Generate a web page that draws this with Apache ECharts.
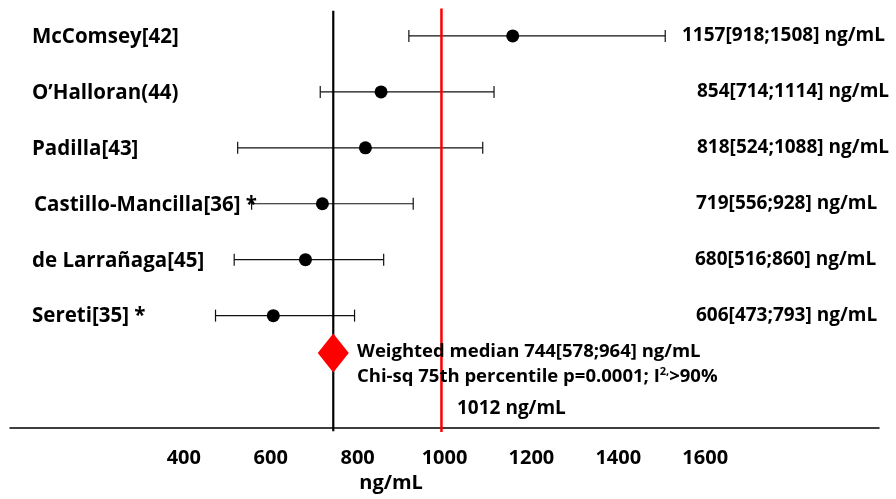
<!DOCTYPE html>
<html>
<head>
<meta charset="utf-8">
<script src="https://cdn.jsdelivr.net/npm/echarts@6/dist/echarts.min.js"></script>
<style>
html,body{margin:0;padding:0;background:#fff;}
#chart{width:896px;height:499px;}
</style>
</head>
<body>
<div id="chart"></div>
<script>
// ---------------- DATA ----------------
const studies = ['McComsey[42]', 'O\u2019Halloran(44)', 'Padilla[43]', 'Castillo-Mancilla[36] *', 'de Larra\u00f1aga[45]', 'Sereti[35] *'];
const medians = [1157, 854, 818, 719, 680, 606];
const lowers  = [918, 714, 524, 556, 516, 473];
const uppers  = [1508, 1114, 1088, 928, 860, 793];
const rows    = [6, 5, 4, 3, 2, 1];
const pooledMedian = 744;
const pooledLower = 578;
const pooledUpper = 964;
const pooledRow = 0.33;
const refLineValue = 993;          // red reference line as drawn
const refLineLabel = '1012 ng/mL';
const tickLabels = [400, 600, 800, 1000, 1200, 1400, 1600];
const axisName = 'ng/mL';
const pooledText = 'Weighted median ' + pooledMedian + '[' + pooledLower + ';' + pooledUpper + '] ng/mL';
const chiText = ['Chi-sq 75th percentile p=0.0001; I', '2,', '>90%'];

// ---------------- CHART ----------------
const FONT = 'Open Sans';
const chart = echarts.init(document.getElementById('chart'), null, {renderer: 'canvas'});

const barData = rows.map((r, i) => [lowers[i], uppers[i], r]);
const dotData = rows.map((r, i) => [medians[i], r]);

const option = {
  animation: false,
  backgroundColor: '#fff',
  grid: {left: 10, right: 17, top: 8, bottom: 71.5, containLabel: false},
  xAxis: {
    type: 'value', min: 0, max: 2000, interval: 200,
    axisLine: {show: true, onZero: false, lineStyle: {color: '#000', width: 1.5}},
    axisTick: {show: false},
    splitLine: {show: false},
    axisLabel: {
      margin: 21, color: '#000', fontFamily: FONT, fontWeight: 'bold', fontSize: 20,
      formatter: v => tickLabels.indexOf(v) >= 0 ? String(v) : ''
    }
  },
  yAxis: {type: 'value', min: -1, max: 6.5, show: false},
  series: [
    {
      type: 'custom', z: 2, data: barData, clip: false,
      encode: {x: [0, 1], y: 2},
      renderItem: function (params, api) {
        const a = api.coord([api.value(0), api.value(2)]);
        const b = api.coord([api.value(1), api.value(2)]);
        const h = 6;
        const st = {stroke: '#111', lineWidth: 1.2};
        return {type: 'group', children: [
          {type: 'line', shape: {x1: a[0], y1: a[1], x2: b[0], y2: b[1]}, style: st},
          {type: 'line', shape: {x1: a[0], y1: a[1] - h, x2: a[0], y2: a[1] + h}, style: st},
          {type: 'line', shape: {x1: b[0], y1: b[1] - h, x2: b[0], y2: b[1] + h}, style: st}
        ]};
      }
    },
    {
      type: 'line', z: 3, clip: false, symbol: 'none',
      data: [[pooledMedian, -1.065], [pooledMedian, 6.45]],
      lineStyle: {color: '#000', width: 2.2}
    },
    {
      type: 'line', z: 3, clip: false, symbol: 'none',
      data: [[refLineValue, -1.08], [refLineValue, 6.49]],
      lineStyle: {color: '#ff0000', width: 2.5}
    },
    {
      type: 'scatter', z: 4, data: dotData, symbol: 'circle', symbolSize: 13,
      itemStyle: {color: '#000', opacity: 1}
    },
    {
      type: 'scatter', z: 5, data: [[pooledMedian, pooledRow]], symbol: 'diamond', symbolSize: [31, 39],
      itemStyle: {color: '#ff0000', opacity: 1}
    }
  ]
};
chart.setOption(option);

// ---------------- TEXT ----------------
const nameX = [32, 32, 32, 34, 32, 32];
const valX = [682, 697, 697, 696, 695, 696];
const g = [];
const txt = (x, y, text, size, extra) => Object.assign({
  type: 'text', x: x, y: y, z: 10,
  style: {text: text, fill: '#000', font: 'bold ' + size + 'px "' + FONT + '"', textVerticalAlign: 'middle', textAlign: 'left'}
}, extra || {});
rows.forEach((r, i) => {
  const p = chart.convertToPixel({gridIndex: 0}, [0, r]);
  g.push(txt(nameX[i], p[1] + 1, studies[i], 20.5));
  g.push(txt(valX[i], p[1], medians[i] + '[' + lowers[i] + ';' + uppers[i] + '] ng/mL', 19));
});
const pp = chart.convertToPixel({gridIndex: 0}, [0, pooledRow]);
g.push(txt(357, pp[1] - 1, pooledText, 18.5));
g.push({
  type: 'text', x: 357, y: pp[1] + 24, z: 10,
  style: {
    text: '{n|' + chiText[0] + '}{s|' + chiText[1] + '}{n|' + chiText[2] + '}',
    textVerticalAlign: 'middle', textAlign: 'left',
    rich: {
      n: {fontFamily: FONT, fontWeight: 'bold', fontSize: 18.5, fill: '#000', color: '#000', lineHeight: 22},
      s: {fontFamily: FONT, fontWeight: 'bold', fontSize: 11, fill: '#000', color: '#000', verticalAlign: 'top', lineHeight: 22}
    }
  }
});
g.push(txt(457, 409, refLineLabel, 19));
const np = chart.convertToPixel({gridIndex: 0}, [877, -1]);
const nameEl = txt(np[0], 483, axisName, 20);
nameEl.style.textAlign = 'center';
g.push(nameEl);
chart.setOption({graphic: g});
</script>
</body>
</html>
